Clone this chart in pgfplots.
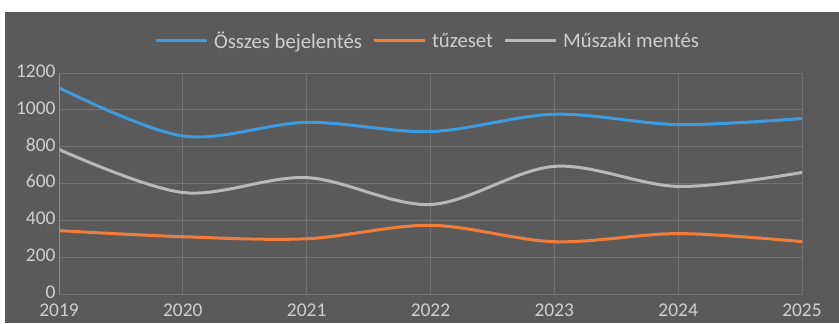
\documentclass[border=0pt]{standalone}
\usepackage{fontspec}
\setmainfont{Carlito}
\usepackage{pgfplots}
\pgfplotsset{compat=1.18}
\definecolor{bg}{HTML}{5A5A5A}
\definecolor{gridc}{HTML}{727272}
\definecolor{axc}{HTML}{8C8C8C}
\definecolor{textc}{HTML}{CFCFCF}
\definecolor{cblue}{HTML}{3D9BE0}
\definecolor{corange}{HTML}{F07E3A}
\definecolor{cgray}{HTML}{B8B8B8}
\begin{document}
\begin{tikzpicture}[x=1bp,y=1bp]
\fill[white] (0,0) rectangle (839,323);
\fill[bg] (5,0) rectangle (839,311);
\begin{axis}[
  at={(59bp,29bp)}, anchor=south west,
  scale only axis, width=743bp, height=221bp,
  xmin=2019, xmax=2025, ymin=0, ymax=1200,
  xtick={2019,2020,...,2025}, ytick={0,200,...,1200},
  /pgf/number format/assume math mode=true,
  x tick label style={/pgf/number format/1000 sep={}, yshift=-6bp},
  y tick label style={/pgf/number format/1000 sep={}, yshift=2bp},
  tick label style={font=\fontsize{19.5}{20}\selectfont, text=textc},
  major tick length=0pt,
  grid=major, grid style={draw=gridc, line width=0.8bp},
  axis line style={draw=gridc, line width=0.8bp},
  legend style={at={(0.496,1.145)}, anchor=center, draw=none, fill=none,
    text=textc, font=\fontsize{20.8}{21}\selectfont,
    /tikz/every even column/.append style={column sep=8bp},
    legend cell align=left},
  legend columns=3,
  legend image code/.code={\draw[#1] (0bp,0bp) -- (51bp,0bp);},
  every axis plot/.append style={line width=3bp, smooth, tension=0.55},
]
\addplot[cblue] coordinates {(2019,1120) (2020,858) (2021,932) (2022,882) (2023,976) (2024,920) (2025,953)};
\addlegendentry{\hspace{4bp}Összes bejelentés}
\addplot[corange] coordinates {(2019,344) (2020,311) (2021,300) (2022,373) (2023,284) (2024,328) (2025,284)};
\addlegendentry{\hspace{4bp}tűzeset}
\addplot[cgray] coordinates {(2019,785) (2020,551) (2021,632) (2022,486) (2023,693) (2024,584) (2025,660)};
\addlegendentry{\hspace{4bp}Műszaki mentés}
\draw[axc, line width=1bp] (axis cs:2019,0) -- (axis cs:2019,1200);
\end{axis}
\end{tikzpicture}
\end{document}
